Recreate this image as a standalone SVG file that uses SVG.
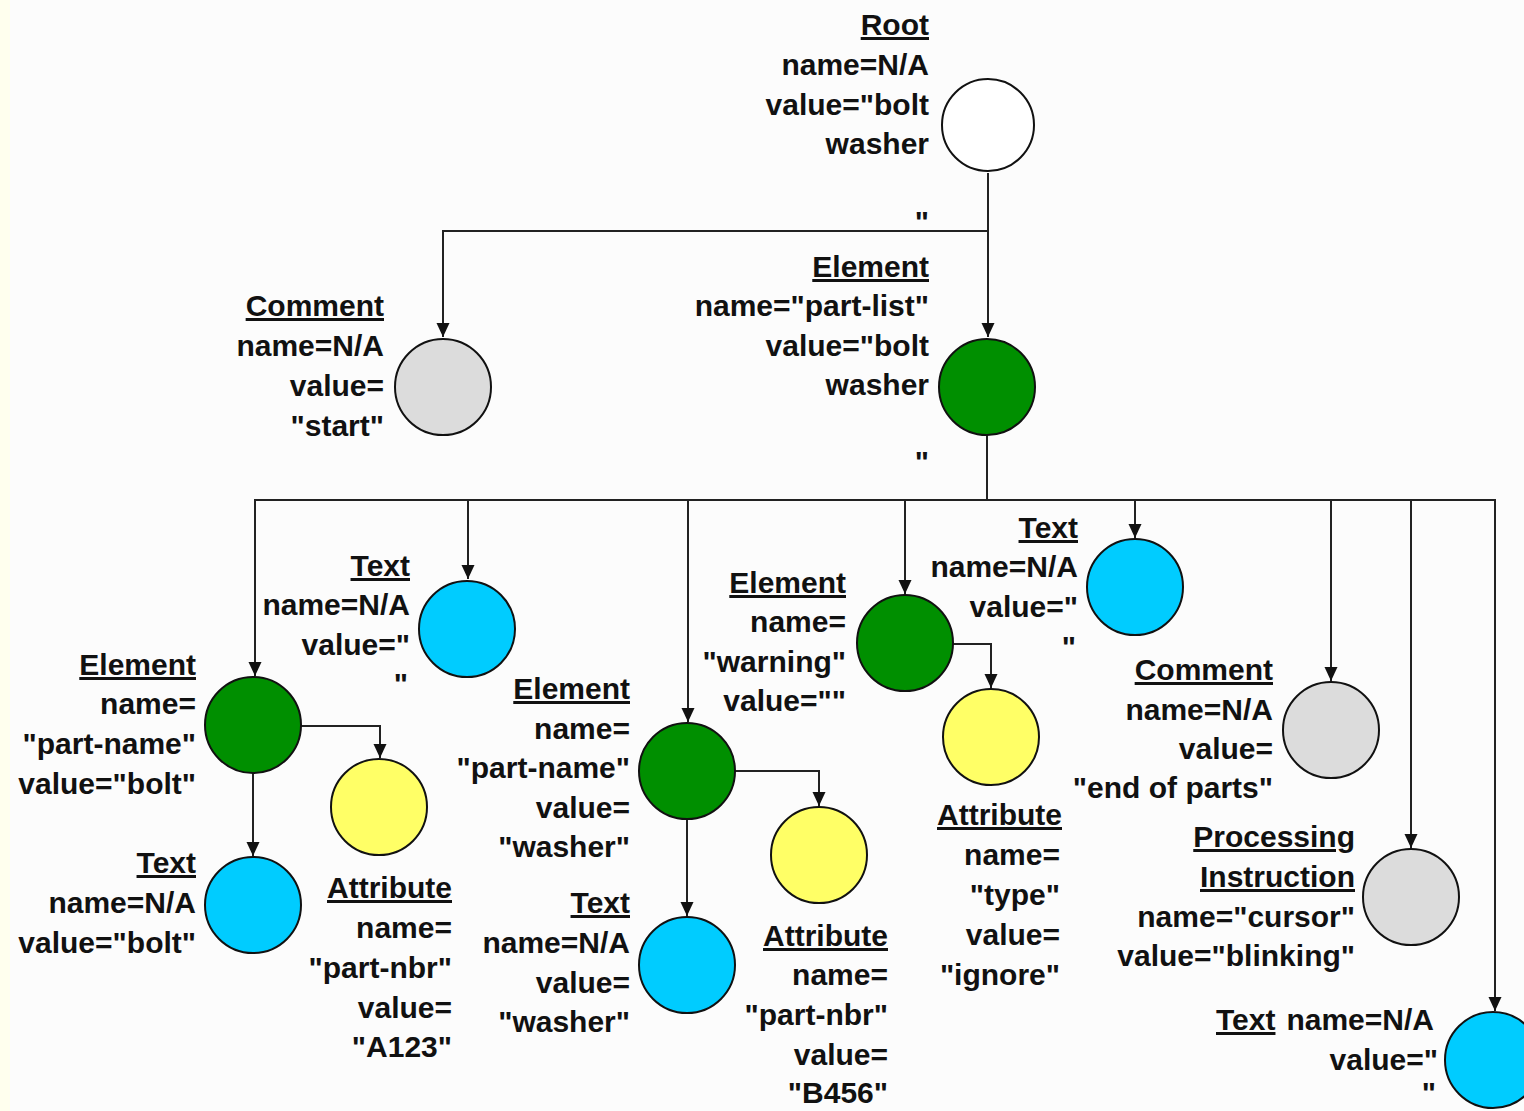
<svg xmlns="http://www.w3.org/2000/svg" width="1524" height="1111" viewBox="0 0 1524 1111">
  <style>
    text { font-family: "Liberation Sans", Arial, sans-serif; font-weight: bold; font-size: 30px; fill: #111; text-anchor: end; }
    text.t { text-decoration: underline; }
    text.s { text-anchor: start; }
    circle { stroke: #111; stroke-width: 2; }
    .root { fill: #ffffff; }
    .comment { fill: #dcdcdc; }
    .element { fill: #008f00; }
    .text { fill: #00ccff; }
    .attr { fill: #ffff66; }
    .edge { fill: none; stroke: #222; stroke-width: 2; }
  </style>
  <defs>
    <marker id="arrow" markerUnits="userSpaceOnUse" markerWidth="16" markerHeight="16" viewBox="0 -8 15 16" refX="14" refY="0" orient="auto">
      <path d="M0,-6.5 L14,0 L0,6.5 z" fill="#111"/>
    </marker>
  </defs>

  <rect x="0" y="0" width="1524" height="1111" fill="#fcfcfc"/>
  <rect x="0" y="0" width="10" height="1111" fill="#ffffee"/>

  <!-- tree connectors -->
  <g id="connectors">
    <path class="edge" d="M988,173 V231 H443 V337" marker-end="url(#arrow)"/>
    <path class="edge" d="M988,231 V337" marker-end="url(#arrow)"/>
    <path class="edge" d="M987,435 V500 H255 V676" marker-end="url(#arrow)"/>
    <path class="edge" d="M468,500 V579" marker-end="url(#arrow)"/>
    <path class="edge" d="M688,500 V722" marker-end="url(#arrow)"/>
    <path class="edge" d="M905,500 V594" marker-end="url(#arrow)"/>
    <path class="edge" d="M987,500 H1495 V1011" marker-end="url(#arrow)"/>
    <path class="edge" d="M1135,500 V538" marker-end="url(#arrow)"/>
    <path class="edge" d="M1331,500 V681" marker-end="url(#arrow)"/>
    <path class="edge" d="M1411,500 V848" marker-end="url(#arrow)"/>
    <path class="edge" d="M253,772 V856" marker-end="url(#arrow)"/>
    <path class="edge" d="M300,726 H380 V758" marker-end="url(#arrow)"/>
    <path class="edge" d="M687,818 V916" marker-end="url(#arrow)"/>
    <path class="edge" d="M735,771 H819 V806" marker-end="url(#arrow)"/>
    <path class="edge" d="M953,644 H991 V688" marker-end="url(#arrow)"/>
  </g>

  <g id="root">
    <circle class="root" cx="988" cy="125" r="46"/>
    <text class="t" x="929" y="35">Root</text>
    <text x="929" y="75">name=N/A</text>
    <text x="929" y="115">value="bolt</text>
    <text x="929" y="154">washer</text>
    <text x="929" y="232">"</text>
  </g>

  <g id="comment-start">
    <circle class="comment" cx="443" cy="387" r="48"/>
    <text class="t" x="384" y="316">Comment</text>
    <text x="384" y="356">name=N/A</text>
    <text x="384" y="396">value=</text>
    <text x="384" y="436">"start"</text>
  </g>

  <g id="element-part-list">
    <circle class="element" cx="987" cy="387" r="48"/>
    <text class="t" x="929" y="277">Element</text>
    <text x="929" y="316">name="part-list"</text>
    <text x="929" y="356">value="bolt</text>
    <text x="929" y="395">washer</text>
    <text x="929" y="472">"</text>
  </g>

  <g id="element-part-name-bolt">
    <circle class="element" cx="253" cy="725" r="48"/>
    <text class="t" x="196" y="675">Element</text>
    <text x="196" y="714">name=</text>
    <text x="196" y="754">"part-name"</text>
    <text x="196" y="794">value="bolt"</text>
  </g>

  <g id="text-bolt">
    <circle class="text" cx="253" cy="905" r="48"/>
    <text class="t" x="196" y="873">Text</text>
    <text x="196" y="913">name=N/A</text>
    <text x="196" y="953">value="bolt"</text>
  </g>

  <g id="attribute-a123">
    <circle class="attr" cx="379" cy="807" r="48"/>
    <text class="t" x="452" y="898">Attribute</text>
    <text x="452" y="938">name=</text>
    <text x="452" y="978">"part-nbr"</text>
    <text x="452" y="1018">value=</text>
    <text x="452" y="1057">"A123"</text>
  </g>

  <g id="text-ws1">
    <circle class="text" cx="467" cy="629" r="48"/>
    <text class="t" x="410" y="576">Text</text>
    <text x="410" y="615">name=N/A</text>
    <text x="410" y="655">value="</text>
    <text x="408" y="694">"</text>
  </g>

  <g id="element-part-name-washer">
    <circle class="element" cx="687" cy="771" r="48"/>
    <text class="t" x="630" y="699">Element</text>
    <text x="630" y="739">name=</text>
    <text x="630" y="778">"part-name"</text>
    <text x="630" y="818">value=</text>
    <text x="630" y="857">"washer"</text>
  </g>

  <g id="text-washer">
    <circle class="text" cx="687" cy="965" r="48"/>
    <text class="t" x="630" y="913">Text</text>
    <text x="630" y="953">name=N/A</text>
    <text x="630" y="993">value=</text>
    <text x="630" y="1032">"washer"</text>
  </g>

  <g id="attribute-b456">
    <circle class="attr" cx="819" cy="855" r="48"/>
    <text class="t" x="888" y="946">Attribute</text>
    <text x="888" y="985">name=</text>
    <text x="888" y="1025">"part-nbr"</text>
    <text x="888" y="1065">value=</text>
    <text x="888" y="1103">"B456"</text>
  </g>

  <g id="element-warning">
    <circle class="element" cx="905" cy="643" r="48"/>
    <text class="t" x="846" y="593">Element</text>
    <text x="846" y="632">name=</text>
    <text x="846" y="672">"warning"</text>
    <text x="846" y="711">value=""</text>
  </g>

  <g id="attribute-type">
    <circle class="attr" cx="991" cy="737" r="48"/>
    <text class="t" x="1062" y="825">Attribute</text>
    <text x="1060" y="865">name=</text>
    <text x="1060" y="905">"type"</text>
    <text x="1060" y="945">value=</text>
    <text x="1060" y="985">"ignore"</text>
  </g>

  <g id="text-ws2">
    <circle class="text" cx="1135" cy="587" r="48"/>
    <text class="t" x="1078" y="538">Text</text>
    <text x="1078" y="577">name=N/A</text>
    <text x="1078" y="617">value="</text>
    <text x="1076" y="657">"</text>
  </g>

  <g id="comment-end">
    <circle class="comment" cx="1331" cy="730" r="48"/>
    <text class="t" x="1273" y="680">Comment</text>
    <text x="1273" y="720">name=N/A</text>
    <text x="1273" y="759">value=</text>
    <text x="1273" y="798">"end of parts"</text>
  </g>

  <g id="processing-instruction">
    <circle class="comment" cx="1411" cy="897" r="48"/>
    <text class="t" x="1355" y="847">Processing</text>
    <text class="t" x="1355" y="887">Instruction</text>
    <text x="1355" y="927">name="cursor"</text>
    <text x="1355" y="966">value="blinking"</text>
  </g>

  <g id="text-ws3">
    <circle class="text" cx="1493" cy="1060" r="48"/>
    <text class="t s" x="1216" y="1030">Text</text>
    <text x="1434" y="1030">name=N/A</text>
    <text x="1438" y="1070">value="</text>
    <text x="1436" y="1103">"</text>
  </g>
</svg>
